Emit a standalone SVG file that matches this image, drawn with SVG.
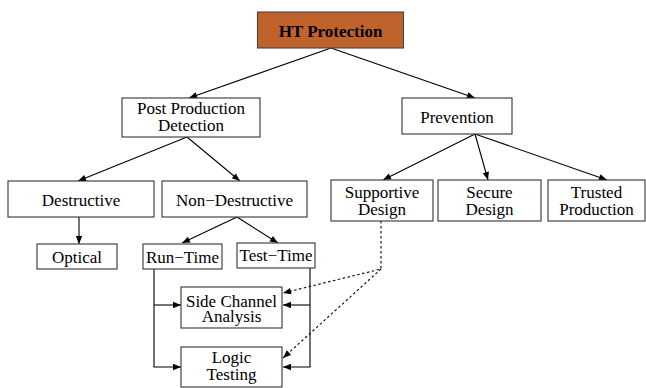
<svg xmlns="http://www.w3.org/2000/svg" width="646" height="388" viewBox="0 0 646 388">
<defs>
<marker id="ah" viewBox="0 0 10 10" refX="10" refY="5" markerWidth="10" markerHeight="8" markerUnits="userSpaceOnUse" orient="auto">
<path d="M0,1 L10,5 L0,9 Z" fill="#000"/>
</marker>
</defs>
<style>
.box{fill:#fff;stroke:#333;stroke-width:1.1}
.t{font-size:17px;fill:#000;text-anchor:middle}
.b{font-weight:bold}
.c{fill:none;stroke:#000;stroke-width:1.1;marker-end:url(#ah)}
.d{stroke-dasharray:2.5,2.5}
</style>
<rect width="646" height="388" fill="#fff"/>
<g id="connectors">
<path class="c" d="M331,48 L189,98"/>
<path class="c" d="M331,48 L475,98"/>
<path class="c" d="M187,137 L78,181"/>
<path class="c" d="M187,137 L240,181"/>
<path class="c" d="M79,217 L79,244"/>
<path class="c" d="M237,217 L182,243"/>
<path class="c" d="M237,217 L278,243"/>
<path class="c" d="M475,134 L383,180"/>
<path class="c" d="M475,134 L488,180"/>
<path class="c" d="M475,134 L607,180"/>
<path class="c" d="M154,269 V367 H181"/>
<path class="c" d="M154,305 H181"/>
<path class="c" d="M310,268 V367 H283"/>
<path class="c" d="M310,305 H283"/>
<path class="c d" d="M381,221 V269 L283,293"/>
<path class="c d" d="M381,269 L283,358"/>
</g>
<g font-family="Liberation Serif, Times New Roman, DejaVu Serif, serif">
<g id="ht">
<rect x="257.5" y="12" width="146" height="36" fill="#c0622b" stroke="#444" stroke-width="1.1"/>
<text class="t b" x="330.5" y="37">HT Protection</text>
</g>
<g id="ppd">
<rect class="box" x="122" y="98" width="138" height="39"/>
<text class="t" x="191" y="114">Post Production</text>
<text class="t" x="191" y="131">Detection</text>
</g>
<g id="prevention">
<rect class="box" x="402" y="98" width="110" height="36"/>
<text class="t" x="457" y="123">Prevention</text>
</g>
<g id="destructive">
<rect class="box" x="8" y="181" width="146" height="36"/>
<text class="t" x="81" y="206">Destructive</text>
</g>
<g id="nondestructive">
<rect class="box" x="162" y="181" width="145" height="36"/>
<text class="t" x="234.5" y="206">Non−Destructive</text>
</g>
<g id="optical">
<rect class="box" x="37" y="244" width="80" height="25"/>
<text class="t" x="77" y="263">Optical</text>
</g>
<g id="runtime">
<rect class="box" x="143" y="244" width="79" height="25"/>
<text class="t" x="182.5" y="263">Run−Time</text>
</g>
<g id="testtime">
<rect class="box" x="237" y="243" width="78" height="25"/>
<text class="t" x="276" y="261">Test−Time</text>
</g>
<g id="supportive">
<rect class="box" x="331" y="180" width="102" height="41"/>
<text class="t" x="382" y="198">Supportive</text>
<text class="t" x="382" y="215">Design</text>
</g>
<g id="secure">
<rect class="box" x="438" y="180" width="103" height="41"/>
<text class="t" x="489.5" y="198">Secure</text>
<text class="t" x="489.5" y="215">Design</text>
</g>
<g id="trusted">
<rect class="box" x="548" y="180" width="97" height="41"/>
<text class="t" x="596.5" y="198">Trusted</text>
<text class="t" x="596.5" y="215">Production</text>
</g>
<g id="sca">
<rect class="box" x="181" y="287" width="101" height="41"/>
<text class="t" x="231.5" y="307">Side Channel</text>
<text class="t" x="231.5" y="322">Analysis</text>
</g>
<g id="logic">
<rect class="box" x="181" y="347" width="101" height="40"/>
<text class="t" x="231.5" y="363">Logic</text>
<text class="t" x="231.5" y="380">Testing</text>
</g>
</g>
</svg>
